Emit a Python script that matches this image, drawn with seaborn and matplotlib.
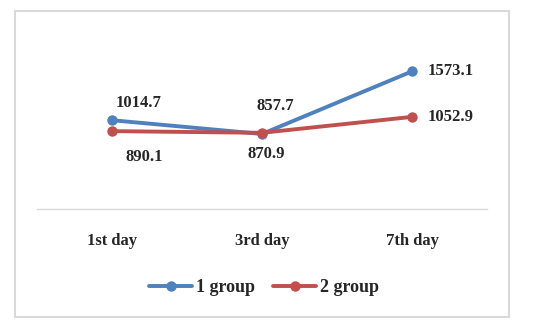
import pandas as pd
import numpy as np
import matplotlib.pyplot as plt
import matplotlib.patches as mpatches
from matplotlib.lines import Line2D
import seaborn as sns

days = ['1st day', '3rd day', '7th day']
group1 = [1014.7, 857.7, 1573.1]
group2 = [890.1, 870.9, 1052.9]
groups = ['1 group', '2 group']
colors = ['#4F81BD', '#C0504D']

# label offsets in pixels (dx, dy) for each point
offs1 = [(27, 17), (13, 28), (39, 0)]
offs2 = [(32, -26), (4, -21), (39, 0)]

df = pd.DataFrame({
    'day': days * 2,
    'value': group1 + group2,
    'group': [groups[0]] * 3 + [groups[1]] * 3,
})

sns.set_style('white')
plt.rcParams['font.family'] = ['Liberation Serif', 'DejaVu Serif']
plt.rcParams['font.weight'] = 'bold'

fig = plt.figure(figsize=(5.41, 3.28), dpi=100)
ax = fig.add_axes([0.0684, 0.3628, 0.8318, 0.5335])

sns.lineplot(data=df, x='day', y='value', hue='group', palette=colors,
             marker='o', markersize=7.5, markeredgewidth=0, linewidth=2.8,
             legend=False, ax=ax)

for vals, offs in [(group1, offs1), (group2, offs2)]:
    for i, (v, (dx, dy)) in enumerate(zip(vals, offs)):
        ax.annotate(f'{v:.1f}', (i, v), xytext=(dx, dy), textcoords='offset pixels',
                    ha='center', va='center', fontsize=12, fontweight='bold')

ax.set_xlim(-0.5, 2.5)
ax.set_ylim(0, 2000)
ax.set_yticks([])
ax.set_xlabel('')
ax.set_ylabel('')
for s in ['top', 'left', 'right']:
    ax.spines[s].set_visible(False)
ax.spines['bottom'].set_color('#D9D9D9')
ax.spines['bottom'].set_linewidth(1)
ax.tick_params(axis='x', length=0, pad=17, labelsize=12)
for t in ax.get_xticklabels():
    t.set_fontweight('bold')

handles = [Line2D([], [], color=c, lw=2.8, marker='o', markersize=7.5, markeredgewidth=0)
           for c in colors]
fig.legend(handles, groups, loc='center', bbox_to_anchor=(0.488, 0.122), ncol=2,
           frameon=False, handlelength=2.4, columnspacing=1.0, handletextpad=0.2,
           prop={'size': 13, 'weight': 'bold'})

fig.patches.append(mpatches.Rectangle((15 / 541, 1 - 317 / 328), 494 / 541, 306 / 328,
                                      transform=fig.transFigure, fill=False,
                                      edgecolor='#D9D9D9', lw=1.5))

fig.savefig('out.png', dpi=100)
